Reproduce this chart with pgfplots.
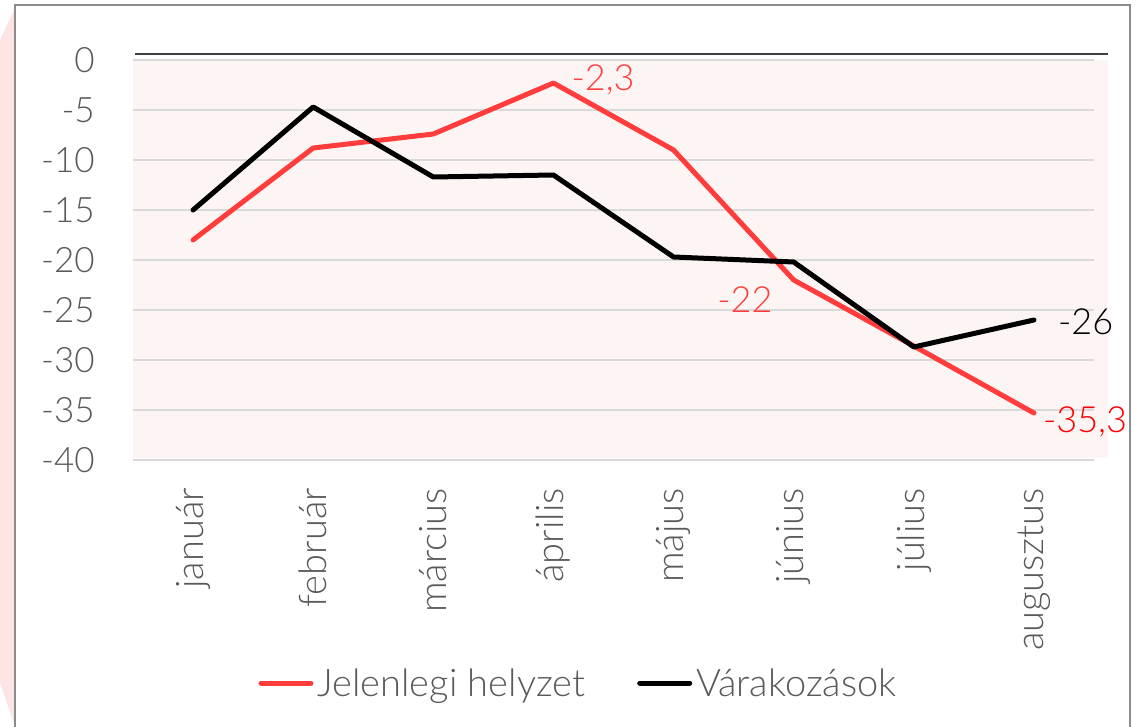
\documentclass[border=0pt]{standalone}
\usepackage{fontspec}
\setmainfont{Lato}[UprightFont={* Light}]
\usepackage{pgfplots}
\pgfplotsset{compat=1.18}
\definecolor{myred}{HTML}{FF3D3D}
\definecolor{pureRed}{HTML}{FF0000}
\definecolor{labelgray}{HTML}{595959}
\definecolor{gridgray}{HTML}{D9D9D9}
\definecolor{bgpink}{HTML}{FDF4F4}
\definecolor{decopink}{HTML}{FCE4E4}
\definecolor{framegray}{HTML}{8C8C8C}
\begin{document}
\begin{tikzpicture}[x=1pt,y=1pt]
\path[use as bounding box, clip] (0,0) rectangle (1143,726);
\fill[white] (0,0) rectangle (1143,726);
% left decoration
\fill[decopink] (0,686) -- (15,718) -- (15,0) -- (0,43) -- cycle;
% frame
\draw[framegray, line width=1.5pt] (15,-10) -- (15,721) -- (1130,721) -- (1130,-10);
% plot area background
\fill[bgpink] (133,268) rectangle (1108,666);
\draw[black!75, line width=2pt] (135,672) -- (1108,672);
\begin{axis}[
  at={(133pt,266pt)}, anchor=south west,
  scale only axis, width=961pt, height=400pt,
  xmin=-0.5, xmax=7.5, ymin=-40, ymax=0,
  xtick={0,...,7},
  xticklabels={január,február,március,április,május,június,július,augusztus},
  ytick={-40,-35,...,0},
  axis line style={draw=none},
  major tick length=0pt,
  ymajorgrids,
  grid style={draw=gridgray, line width=1.5pt},
  tick label style={font=\fontsize{35}{42}\selectfont, text=labelgray, inner sep=0pt},
  /pgf/number format/assume math mode=true,
  yticklabel shift=38pt,
  xticklabel shift=28pt,
  xticklabel style={rotate=90, anchor=east, font=\fontsize{38}{44}\selectfont},
  clip=false,
  legend columns=2,
  legend style={at={(0.4626,-0.5575)}, anchor=center, draw=none, fill=none,
    font=\fontsize{38}{44}\selectfont, text=labelgray,
    nodes={inner sep=0pt},
    /tikz/every odd column/.append style={column sep=4pt},
    /tikz/every even column/.append style={column sep=52pt}},
  legend image code/.code={\draw[#1, line cap=round] (0pt,0pt) -- (50pt,0pt);},
]
\addplot[myred, line width=5pt, line join=round, line cap=round] coordinates {
 (0,-18) (1,-8.8) (2,-7.4) (3,-2.3) (4,-9.0) (5,-22) (6,-28.6) (7,-35.3)};
\addlegendentry{Jelenlegi helyzet}
\addplot[black, line width=5pt, line join=round, line cap=round] coordinates {
 (0,-15) (1,-4.7) (2,-11.7) (3,-11.5) (4,-19.7) (5,-20.2) (6,-28.7) (7,-26)};
\addlegendentry{Várakozások}
\node[anchor=west, inner sep=0pt, text=myred, font=\fontsize{36}{42}\selectfont, xshift=18pt] at (axis cs:3,-2.0) {-2,3};
\node[anchor=east, inner sep=0pt, text=myred, font=\fontsize{36}{42}\selectfont, xshift=-21pt] at (axis cs:5,-24) {-22};
\node[anchor=west, inner sep=0pt, text=black, font=\fontsize{36}{42}\selectfont, xshift=24pt] at (axis cs:7,-26.2) {-26};
\node[anchor=west, inner sep=0pt, text=pureRed, font=\fontsize{36}{42}\selectfont, xshift=9pt] at (axis cs:7,-36.2) {-35,3};
\end{axis}
\end{tikzpicture}
\end{document}
